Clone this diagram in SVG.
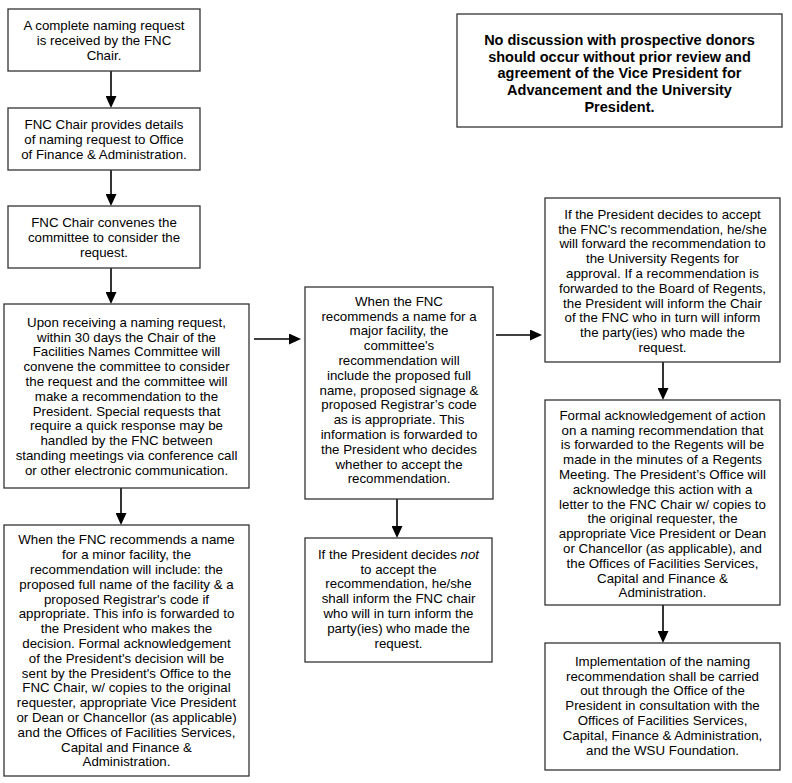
<svg xmlns="http://www.w3.org/2000/svg" width="792" height="783" viewBox="0 0 792 783">
<style>
.box{fill:#fff;stroke:#333;stroke-width:1.3}
.t{font-family:"Liberation Sans",Arial,sans-serif;font-size:13.3px;fill:#000;text-anchor:middle}
.b{font-family:"Liberation Sans",Arial,sans-serif;font-size:14.5px;font-weight:bold;fill:#000;text-anchor:middle}
.c{stroke:#000;stroke-width:1.6;fill:none;marker-end:url(#ah)}
</style>
<defs>
<marker id="ah" markerUnits="userSpaceOnUse" markerWidth="12" markerHeight="11" refX="6" refY="5.5" orient="auto">
<path d="M0,0 L12,5.5 L0,11 z" fill="#000"/>
</marker>
</defs>
<rect width="792" height="783" fill="#fff"/>
<g id="connectors">
<line class="c" x1="111" y1="71" x2="111" y2="102"/>
<line class="c" x1="111" y1="170" x2="111" y2="200"/>
<line class="c" x1="111" y1="268" x2="111" y2="298"/>
<line class="c" x1="121" y1="488" x2="121" y2="519"/>
<line class="c" x1="254" y1="339" x2="295" y2="339"/>
<line class="c" x1="397" y1="499" x2="397" y2="532"/>
<line class="c" x1="496" y1="335" x2="536" y2="335"/>
<line class="c" x1="663" y1="362" x2="663" y2="394"/>
<line class="c" x1="663" y1="605" x2="663" y2="637"/>
</g>
<g id="n1">
<rect class="box" x="8" y="9" width="192" height="62"/>
<text class="t" x="104" y="30"><tspan x="104">A complete naming request</tspan><tspan x="104" dy="14.8">is received by the FNC</tspan><tspan x="104" dy="14.8">Chair.</tspan></text>
</g>
<g id="n2">
<rect class="box" x="8" y="108" width="192" height="62"/>
<text class="t" x="104" y="129"><tspan x="104">FNC Chair provides details</tspan><tspan x="104" dy="14.8">of naming request to Office</tspan><tspan x="104" dy="14.8">of Finance &amp; Administration.</tspan></text>
</g>
<g id="n3">
<rect class="box" x="8" y="206" width="192" height="62"/>
<text class="t" x="104" y="227"><tspan x="104">FNC Chair convenes the</tspan><tspan x="104" dy="14.8">committee to consider the</tspan><tspan x="104" dy="14.8">request.</tspan></text>
</g>
<g id="n4">
<rect class="box" x="4" y="304" width="245" height="184"/>
<text class="t" x="126.5" y="326.8"><tspan x="126.5">Upon receiving a naming request,</tspan><tspan x="126.5" dy="14.8">within 30 days the Chair of the</tspan><tspan x="126.5" dy="14.8">Facilities Names Committee will</tspan><tspan x="126.5" dy="14.8">convene the committee to consider</tspan><tspan x="126.5" dy="14.8">the request and the committee will</tspan><tspan x="126.5" dy="14.8">make a recommendation to the</tspan><tspan x="126.5" dy="14.8">President. Special requests that</tspan><tspan x="126.5" dy="14.8">require a quick response may be</tspan><tspan x="126.5" dy="14.8">handled by the FNC between</tspan><tspan x="126.5" dy="14.8">standing meetings via conference call</tspan><tspan x="126.5" dy="14.8">or other electronic communication.</tspan></text>
</g>
<g id="n5">
<rect class="box" x="4" y="525" width="245" height="251"/>
<text class="t" x="126.5" y="544.3"><tspan x="126.5">When the FNC recommends a name</tspan><tspan x="126.5" dy="14.8">for a minor facility, the</tspan><tspan x="126.5" dy="14.8">recommendation will include: the</tspan><tspan x="126.5" dy="14.8">proposed full name of the facility &amp; a</tspan><tspan x="126.5" dy="14.8">proposed Registrar's code if</tspan><tspan x="126.5" dy="14.8">appropriate. This info is forwarded to</tspan><tspan x="126.5" dy="14.8">the President who makes the</tspan><tspan x="126.5" dy="14.8">decision. Formal acknowledgement</tspan><tspan x="126.5" dy="14.8">of the President's decision will be</tspan><tspan x="126.5" dy="14.8">sent by the President's Office to the</tspan><tspan x="126.5" dy="14.8">FNC Chair, w/ copies to the original</tspan><tspan x="126.5" dy="14.8">requester, appropriate Vice President</tspan><tspan x="126.5" dy="14.8">or Dean or Chancellor (as applicable)</tspan><tspan x="126.5" dy="14.8">and the Offices of Facilities Services,</tspan><tspan x="126.5" dy="14.8">Capital and Finance &amp;</tspan><tspan x="126.5" dy="14.8">Administration.</tspan></text>
</g>
<g id="n6">
<rect class="box" x="305" y="287" width="188" height="212"/>
<text class="t" x="399" y="305.8"><tspan x="399">When the FNC</tspan><tspan x="399" dy="14.8">recommends a name for a</tspan><tspan x="399" dy="14.8">major facility, the</tspan><tspan x="399" dy="14.8">committee's</tspan><tspan x="399" dy="14.8">recommendation will</tspan><tspan x="399" dy="14.8">include the proposed full</tspan><tspan x="399" dy="14.8">name, proposed signage &amp;</tspan><tspan x="399" dy="14.8">proposed Registrar’s code</tspan><tspan x="399" dy="14.8">as is appropriate. This</tspan><tspan x="399" dy="14.8">information is forwarded to</tspan><tspan x="399" dy="14.8">the President who decides</tspan><tspan x="399" dy="14.8">whether to accept the</tspan><tspan x="399" dy="14.8">recommendation.</tspan></text>
</g>
<g id="n7">
<rect class="box" x="305" y="538" width="187" height="124"/>
<text class="t" x="398.5" y="558.8"><tspan x="398.5">If the President decides <tspan font-style="italic">not</tspan></tspan><tspan x="398.5" dy="14.8">to accept the</tspan><tspan x="398.5" dy="14.8">recommendation, he/she</tspan><tspan x="398.5" dy="14.8">shall inform the FNC chair</tspan><tspan x="398.5" dy="14.8">who will in turn inform the</tspan><tspan x="398.5" dy="14.8">party(ies) who made the</tspan><tspan x="398.5" dy="14.8">request.</tspan></text>
</g>
<g id="n8">
<rect class="box" x="545" y="198" width="235" height="164"/>
<text class="t" x="662.5" y="218.8"><tspan x="662.5">If the President decides to accept</tspan><tspan x="662.5" dy="14.8">the FNC's recommendation, he/she</tspan><tspan x="662.5" dy="14.8">will forward the recommendation to</tspan><tspan x="662.5" dy="14.8">the University Regents for</tspan><tspan x="662.5" dy="14.8">approval. If a recommendation is</tspan><tspan x="662.5" dy="14.8">forwarded to the Board of Regents,</tspan><tspan x="662.5" dy="14.8">the President will inform the Chair</tspan><tspan x="662.5" dy="14.8">of the FNC who in turn will inform</tspan><tspan x="662.5" dy="14.8">the party(ies) who made the</tspan><tspan x="662.5" dy="14.8">request.</tspan></text>
</g>
<g id="n9">
<rect class="box" x="545" y="400" width="235" height="205"/>
<text class="t" x="662.5" y="419.8"><tspan x="662.5">Formal acknowledgement of action</tspan><tspan x="662.5" dy="14.8">on a naming recommendation that</tspan><tspan x="662.5" dy="14.8">is forwarded to the Regents will be</tspan><tspan x="662.5" dy="14.8">made in the minutes of a Regents</tspan><tspan x="662.5" dy="14.8">Meeting. The President’s Office will</tspan><tspan x="662.5" dy="14.8">acknowledge this action with a</tspan><tspan x="662.5" dy="14.8">letter to the FNC Chair w/ copies to</tspan><tspan x="662.5" dy="14.8">the original requester, the</tspan><tspan x="662.5" dy="14.8">appropriate Vice President or Dean</tspan><tspan x="662.5" dy="14.8">or Chancellor (as applicable), and</tspan><tspan x="662.5" dy="14.8">the Offices of Facilities Services,</tspan><tspan x="662.5" dy="14.8">Capital and Finance &amp;</tspan><tspan x="662.5" dy="14.8">Administration.</tspan></text>
</g>
<g id="n10">
<rect class="box" x="545" y="643" width="235" height="127"/>
<text class="t" x="662.5" y="665.8"><tspan x="662.5">Implementation of the naming</tspan><tspan x="662.5" dy="14.8">recommendation shall be carried</tspan><tspan x="662.5" dy="14.8">out through the Office of the</tspan><tspan x="662.5" dy="14.8">President in consultation with the</tspan><tspan x="662.5" dy="14.8">Offices of Facilities Services,</tspan><tspan x="662.5" dy="14.8">Capital, Finance &amp; Administration,</tspan><tspan x="662.5" dy="14.8">and the WSU Foundation.</tspan></text>
</g>
<g id="note">
<rect class="box" x="457" y="14" width="325" height="113"/>
<text class="b" x="619.5" y="45"><tspan x="619.5">No discussion with prospective donors</tspan><tspan x="619.5" dy="16.7">should occur without prior review and</tspan><tspan x="619.5" dy="16.7">agreement of the Vice President for</tspan><tspan x="619.5" dy="16.7">Advancement and the University</tspan><tspan x="619.5" dy="16.7">President.</tspan></text>
</g>
</svg>
